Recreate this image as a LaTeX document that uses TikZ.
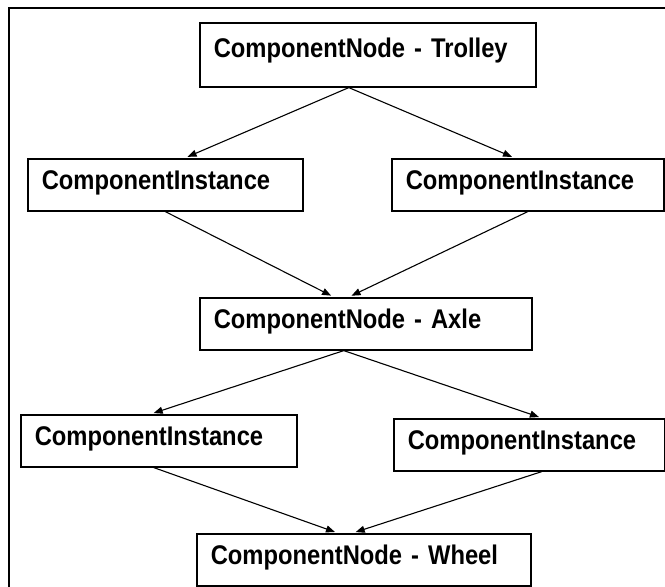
\documentclass[tikz,border=0pt]{standalone}
\usepackage{fontspec}
\setmainfont[FakeStretch=0.88]{Liberation Sans}
\usepackage{tikz}
\usetikzlibrary{arrows.meta}

\begin{document}
\begin{tikzpicture}[x=1pt,y=1pt]
\tikzstyle{every node}+=[inner sep=0pt]
\tikzstyle{compbox}=[draw, line width=1.6pt, anchor=north west, align=left, inner xsep=14pt, inner ysep=0pt, text height=30.7pt, text depth=21.3pt, font=\fontsize{27}{30}\selectfont\bfseries]
\tikzstyle{toparrow}=[line width=1.1pt, -{Triangle[length=9pt,width=7pt]}, shorten >=3pt]
\useasboundingbox (0,0) rectangle (665,-587);
\draw [line width=2pt] (8.5,-587) -- (8.5,-7.5) -- (665,-7.5);
\node [compbox, text width=308pt, text height=34.7pt, text depth=29.3pt] (trolley) at (199,-22) {ComponentNode - Trolley};
\node [compbox, text width=247pt] (inst1) at (27,-158) {ComponentInstance};
\node [compbox, text width=244pt] (inst2) at (391,-158) {ComponentInstance};
\node [compbox, text width=304pt] (axle) at (199,-297) {ComponentNode - Axle};
\node [compbox, text width=248pt] (inst3) at (20,-414) {ComponentInstance};
\node [compbox, text width=243pt] (inst4) at (393,-418) {ComponentInstance};
\node [compbox, text width=306pt] (wheel) at (196,-533) {ComponentNode - Wheel};
\draw [toparrow] ([xshift=-19pt]trolley.south) -- ([xshift=19.5pt]inst1.north);
\draw [toparrow] ([xshift=-19pt]trolley.south) -- ([xshift=-13pt]inst2.north);
\draw [toparrow] (inst1.south) -- ([xshift=-32pt]axle.north);
\draw [toparrow] (inst2.south) -- ([xshift=-17pt]axle.north);
\draw [toparrow] ([xshift=-22pt]axle.south) -- ([xshift=-8pt]inst3.north);
\draw [toparrow] ([xshift=-22pt]axle.south) -- ([xshift=12.5pt]inst4.north);
\draw [toparrow] ([xshift=-5pt]inst3.south) -- ([xshift=-26pt]wheel.north);
\draw [toparrow] ([xshift=12.5pt]inst4.south) -- ([xshift=-11pt]wheel.north);
\end{tikzpicture}
\end{document}
